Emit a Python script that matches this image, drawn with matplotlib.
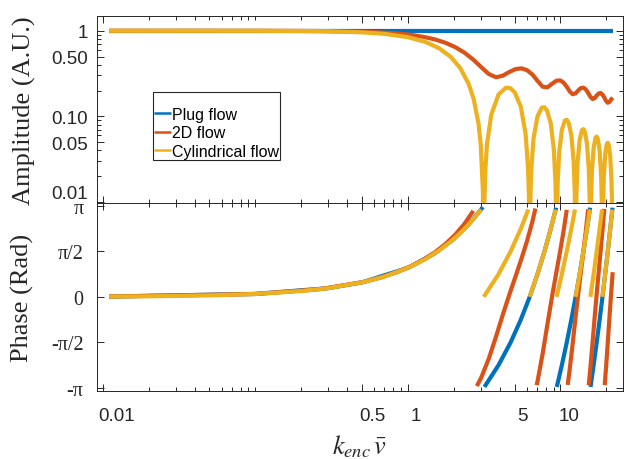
import numpy as np
import matplotlib
matplotlib.use("Agg")
import matplotlib.pyplot as plt
from matplotlib.ticker import FixedLocator, LogLocator, NullFormatter, FixedFormatter
from matplotlib.transforms import ScaledTranslation

nan = np.nan

# ---------------- data ----------------
series_names = ["Plug flow", "2D flow", "Cylindrical flow"]
series_colors = ["#0072BD", "#D95319", "#EDB120"]

# Amplitude panel
plug_amp_x = [0.011, 21.99]
plug_amp = [1.0, 1.0]

flow2d_amp_x = [0.011, 0.1, 0.2618, 0.5131, 0.6702, 0.8482, 1.0472, 1.2671, 1.5080, 1.7698,
                2.0525, 2.3562, 2.6808, 3.0264, 3.3929, 3.7804, 4.1888, 4.6181, 5.0684, 5.5397,
                6.0319, 6.5450, 7.0791, 7.6341, 8.2100, 8.8069, 9.4248, 9.9484, 10.4720, 10.9956,
                11.5192, 12.0428, 12.5664, 13.0900, 13.6136, 14.1372, 14.6608, 15.1844, 15.7080,
                16.2316, 16.7552, 17.2788, 17.8024, 18.3260, 18.8496, 19.3732, 19.8968, 20.4204,
                20.9440, 21.4675, 21.9911]
flow2d_amp = [1.0, 0.9990, 0.9931, 0.9740, 0.9557, 0.9299, 0.8946, 0.8485, 0.7908, 0.7211,
              0.6405, 0.5517, 0.4600, 0.3750, 0.3116, 0.2858, 0.2984, 0.3294, 0.3558, 0.3634,
              0.3466, 0.3079, 0.2591, 0.2220, 0.2178, 0.2400, 0.2611, 0.2629, 0.2478, 0.2212,
              0.1945, 0.1808, 0.1858, 0.2010, 0.2138, 0.2160, 0.2060, 0.1875, 0.1686,
              0.1591, 0.1630, 0.1748, 0.1850, 0.1872, 0.1798, 0.1656, 0.1511, 0.1438,
              0.1471, 0.1567, 0.1652]

cyl_amp_x = [0.011, 0.1, 0.2, 0.3, 0.5, 0.7, 1.0, 1.3, 1.6, 1.9, 2.2, 2.5, 2.7, 2.9, 3.0, 3.1, 3.13,
             3.173, 3.2201, 3.2987, 3.5186, 3.927, 4.3982, 4.7124, 5.0265, 5.4978, 5.9062, 6.1261, 6.2046, 6.2518,
             6.3146, 6.3617, 6.4403, 6.6602, 7.0686, 7.5398, 7.854, 8.1681, 8.6394, 9.0478, 9.2677, 9.3462, 9.3934,
             9.4562, 9.5819, 9.8018, 10.2102, 10.6814, 10.9956, 11.3097, 11.781, 12.1894, 12.4093, 12.535,
             12.5978, 12.7235, 12.9434, 13.3518, 13.823, 14.1372, 14.4513, 14.9226, 15.331, 15.5509, 15.6766,
             15.7394, 15.8651, 16.085, 16.4934, 16.9646, 17.2788, 17.5929, 18.0642, 18.4726, 18.6925, 18.8182,
             18.881, 19.0067, 19.2266, 19.635, 20.1062, 20.4204, 20.7345, 21.2058, 21.6142, 21.8341, 21.9598]
cyl_amp = [1.0, 0.9983, 0.9934, 0.9851, 0.9589, 0.9203, 0.8415, 0.7412, 0.6247, 0.4981, 0.3675, 0.2394, 0.1583,
           0.0825, 0.0470, 0.0134, 0.0037,
           0.0099, 0.02437, 0.04741, 0.10462, 0.18006, 0.21625, 0.21221, 0.18922, 0.12862, 0.06232, 0.02553, 0.01265, 0.00502,
           0.00497, 0.01233, 0.02428, 0.05527, 0.10003, 0.12614, 0.12732, 0.11644, 0.08185, 0.04068, 0.01688, 0.00839, 0.00334,
           0.00332, 0.01632, 0.03755, 0.06926, 0.08904, 0.09095, 0.08410, 0.06002, 0.03020, 0.01260, 0.00250,
           0.00249, 0.01229, 0.02844, 0.05296, 0.06881, 0.07074, 0.06581, 0.04738, 0.02401, 0.01006, 0.00200,
           0.00199, 0.00986, 0.02288, 0.04287, 0.05606, 0.05787, 0.05406, 0.03914, 0.01993, 0.00837, 0.00167,
           0.00166, 0.00823, 0.01915, 0.03601, 0.04730, 0.04897, 0.04587, 0.03334, 0.01703, 0.00716, 0.00143]

# Phase panel (NaN separates wrapped branches)
plug_ph_x = [0.011, 0.1, 0.3, 0.5, 1.0, 1.5, 2.0, 2.5, 3.0, 3.1, nan,
             3.1730, 3.9270, 4.7124, 5.4978, 6.2832, 7.0686, 7.8540, 8.6394, 9.3620, nan,
             9.4562, 10.2102, 10.9956, 11.7810, 12.5664, 13.3518, 14.1372, 14.9226, 15.6451, nan,
             15.7394, 16.4934, 17.2788, 18.0642, 18.8496, 19.6350, 20.4204, 21.2058, 21.9283]
plug_ph = [0.011, 0.1, 0.3, 0.5, 1.0, 1.5, 2.0, 2.5, 3.0, 3.1, nan,
           -3.1102, -2.3562, -1.5708, -0.7854, 0.0, 0.7854, 1.5708, 2.3562, 3.0788, nan,
           -3.1102, -2.3562, -1.5708, -0.7854, 0.0, 0.7854, 1.5708, 2.3562, 3.0788, nan,
           -3.1102, -2.3562, -1.5708, -0.7854, 0.0, 0.7854, 1.5708, 2.3562, 3.0788]

flow2d_ph_x = [0.011, 0.1, 0.2618, 0.5131, 0.6702, 0.8482, 1.0472, 1.2671, 1.5080, 1.7698, 2.0525, 2.3562, 2.6808, nan,
               2.83, 3.0264, 3.3929, 3.7804, 4.1888, 4.6181, 5.0684, 5.5397, 6.0319, 6.5450, 6.85, nan,
               6.98, 7.0791, 7.6341, 8.2100, 8.8069, 9.4248, 9.9484, 10.4720, 10.9956, nan,
               11.15, 11.5192, 12.0428, 12.5664, 13.0900, 13.6136, 14.1372, 14.6608, 15.1844, nan,
               15.32, 15.7080, 16.2316, 16.7552, 17.2788, 17.8024, 18.3260, 18.8496, 19.3732, nan,
               19.50, 19.8968, 20.4204, 20.9440, 21.4675, 21.9911]
flow2d_ph = [0.011, 0.1, 0.2620, 0.5145, 0.6731, 0.8547, 1.0588, 1.2883, 1.5452, 1.8332, 2.1590, 2.5316, 2.9701, nan,
             -3.08, -2.7814, -2.1275, -1.3705, -0.6127, 0.0723, 0.6984, 1.3029, 1.9243, 2.5995, 3.05, nan,
             -3.05, -2.9031, -1.9719, -0.9485, 0.0138, 0.8850, 1.5751, 2.2683, 3.0041, nan,
             -3.04, -2.4646, -1.5750, -0.6871, 0.1271, 0.8683, 1.5734, 2.2799, 3.0242, nan,
             -3.05, -2.4470, -1.5734, -0.7008, 0.1106, 0.8581, 1.5726, 2.2879, 3.0375, nan,
             -3.05, -2.4360, -1.5727, -0.7101, 0.0993, 0.8509]

cyl_ph_x = [0.011, 0.02, 0.05, 0.1, 0.2, 0.3, 0.5, 0.7, 1.0, 1.3, 1.6, 1.9, 2.2, 2.5, 2.8, 3.02, nan,
            3.1416, 3.9270, 4.7124, 5.4978, 6.1575, nan,
            6.2832, 7.0686, 7.8540, 8.6394, 9.2991, nan,
            9.4248, 10.2102, 10.9956, 11.7810, 12.4407, nan,
            12.5664, 13.3518, 14.1372, 14.9226, 15.5823, nan,
            15.7080, 16.4934, 17.2788, 18.0642, 18.7239, nan,
            18.8496, 19.6350, 20.4204, 21.2058, 21.8655]
cyl_ph = [0.011, 0.02, 0.05, 0.1, 0.2, 0.3, 0.5, 0.7, 1.0, 1.3, 1.6, 1.9, 2.2, 2.5, 2.8, 3.02, nan,
          0.0, 0.7854, 1.5708, 2.3562, 3.0159, nan,
          0.0, 0.7854, 1.5708, 2.3562, 3.0159, nan,
          0.0, 0.7854, 1.5708, 2.3562, 3.0159, nan,
          0.0, 0.7854, 1.5708, 2.3562, 3.0159, nan,
          0.0, 0.7854, 1.5708, 2.3562, 3.0159, nan,
          0.0, 0.7854, 1.5708, 2.3562, 3.0159]

x_ticks = [0.01, 0.5, 1, 5, 10]
x_ticklabels = ["0.01", "0.5", "1", "5", "10"]
amp_ticks = [0.01, 0.05, 0.1, 0.5, 1]
amp_ticklabels = ["0.01", "0.05", "0.10", "0.50", "1"]
ph_ticks = [-np.pi, -np.pi / 2, 0, np.pi / 2, np.pi]
ph_ticklabels = ["-\u03c0", "-\u03c0/2", "0", "\u03c0/2", "\u03c0"]

# ---------------- figure ----------------
plt.rcParams["mathtext.fontset"] = "stix"
axcol = "#262626"
sans = "Liberation Sans"
serif = "Liberation Serif"

fig = plt.figure(figsize=(6.25, 4.6), dpi=100)
L, R = 97.3 / 625, 622.5 / 625
ax1 = fig.add_axes([L, 1 - 204.3 / 460, R - L, (204.3 - 16.7) / 460])
ax2 = fig.add_axes([L, 1 - 391.7 / 460, R - L, (391.7 - 204.3) / 460], sharex=ax1)

lw = 3.0
amp_data = [(plug_amp_x, plug_amp), (flow2d_amp_x, flow2d_amp), (cyl_amp_x, cyl_amp)]
ph_data = [(plug_ph_x, plug_ph), (flow2d_ph_x, flow2d_ph), (cyl_ph_x, cyl_ph)]
for (x, y), name, c in zip(amp_data, series_names, series_colors):
    ax1.plot(x, y, color=c, lw=lw, label=name, solid_capstyle="butt", solid_joinstyle="round")
for (x, y), c in zip(ph_data, series_colors):
    ax2.plot(x, y, color=c, lw=lw, solid_capstyle="butt", solid_joinstyle="round")

ax1.set_xscale("log")
ax1.set_yscale("log")
ax1.set_xlim(0.0092, 25.5)
ax1.set_ylim(0.0096, 1.5)
ax2.set_ylim(-3.24, 3.23)

for ax in (ax1, ax2):
    ax.xaxis.set_major_locator(FixedLocator(x_ticks))
    ax.xaxis.set_major_formatter(FixedFormatter(x_ticklabels))
    ax.xaxis.set_minor_locator(LogLocator(base=10, subs=np.arange(1, 10), numticks=50))
    ax.xaxis.set_minor_formatter(NullFormatter())
    ax.tick_params(which="both", direction="in", top=True, right=True, color=axcol,
                   labelcolor=axcol, width=0.7)
    ax.tick_params(which="major", length=5)
    ax.tick_params(which="minor", length=2.8)
    for s in ax.spines.values():
        s.set_color(axcol)
        s.set_linewidth(0.7)

ax1.yaxis.set_major_locator(FixedLocator(amp_ticks))
ax1.yaxis.set_major_formatter(FixedFormatter(amp_ticklabels))
ax1.yaxis.set_minor_locator(LogLocator(base=10, subs=np.arange(1, 10), numticks=50))
ax1.yaxis.set_minor_formatter(NullFormatter())
ax1.tick_params(axis="x", labelbottom=False)
ax1.tick_params(axis="y", which="major", pad=7, labelsize=13.5)
for t in ax1.get_yticklabels():
    t.set_fontfamily(sans)

ax2.yaxis.set_major_locator(FixedLocator(ph_ticks))
ax2.yaxis.set_major_formatter(FixedFormatter(ph_ticklabels))
ax2.yaxis.set_minor_locator(FixedLocator([]))
ax2.tick_params(axis="y", which="major", pad=10, labelsize=14.5)
for t in ax2.get_yticklabels():
    t.set_fontfamily(serif)
ax2.tick_params(axis="x", which="major", pad=11.5, labelsize=13.5)
for t in ax2.get_xticklabels():
    t.set_fontfamily(sans)

# label placement quirks seen in the reference (labels sit slightly off their ticks)
lab001 = ax1.yaxis.get_major_ticks()[0].label1
lab001.set_transform(lab001.get_transform() + ScaledTranslation(0, 10 / 100, fig.dpi_scale_trans))
x_label_shift_px = [14, 10, 8, 8, 9]
for tk, dx in zip(ax2.xaxis.get_major_ticks(), x_label_shift_px):
    tk.label1.set_transform(tk.label1.get_transform() + ScaledTranslation(dx / 100, 0, fig.dpi_scale_trans))

ax1.set_ylabel("Amplitude (A.U.)", fontfamily=serif, fontsize=19, color=axcol)
ax2.set_ylabel("Phase (Rad)", fontfamily=serif, fontsize=19, color=axcol)
ax1.yaxis.set_label_coords(-0.117, 0.5)
ax2.yaxis.set_label_coords(-0.12, 0.5)
ax2.set_xlabel(r"$k_{enc}\,\bar{v}$", fontsize=19, color=axcol)
ax2.xaxis.set_label_coords(0.5, -0.225)

leg = ax1.legend(loc="upper left", bbox_to_anchor=(0.1066, 0.5917), borderaxespad=0,
                 frameon=True, fancybox=False, framealpha=1, edgecolor=axcol,
                 borderpad=0.06, handlelength=1.05, handletextpad=0.05, labelspacing=0.22,
                 title=" ", title_fontsize=7,
                 prop={"family": sans, "size": 11.5})
leg.get_frame().set_linewidth(0.8)
for ln in leg.get_lines():
    ln.set_linewidth(1.8)

fig.savefig("out.png", dpi=100)
